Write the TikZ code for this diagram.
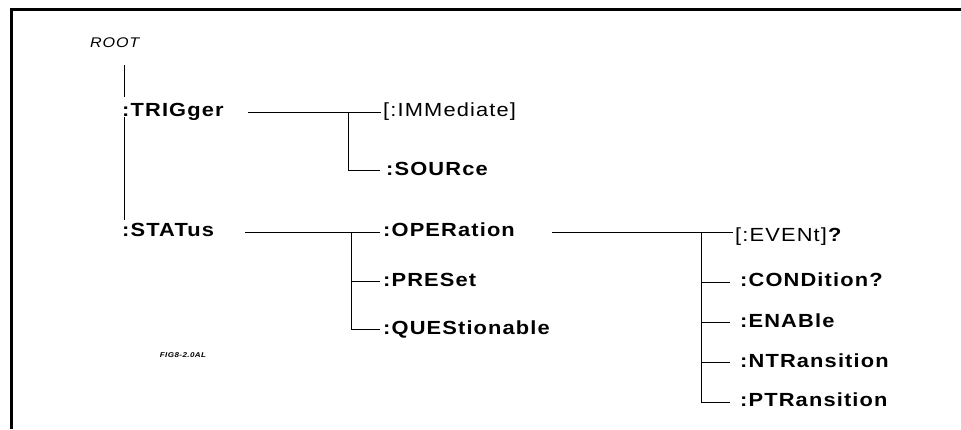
\documentclass[tikz,border=0pt]{standalone}
\usepackage{fontspec}
\setmainfont{Liberation Sans}[LetterSpace=6,FakeStretch=1.15]
\usetikzlibrary{calc}
\usetikzlibrary{positioning}

\begin{document}
\begin{tikzpicture}[x=1pt,y=-1pt,
  cmd/.style={anchor=west,inner sep=0pt,text height=13.6pt,text depth=0pt,font=\fontsize{19}{22}\selectfont\bfseries},
  opt/.style={cmd,font=\fontsize{19}{22}\selectfont},
  wire/.style={draw,line width=0.8pt}]

  \useasboundingbox (0,0) rectangle (961,429);
  \draw [line width=3pt] (961,9) -- (11,9) -- (11,429);

  \node [anchor=west,inner sep=0pt,text height=10pt,text depth=0pt,font=\fontsize{14}{16}\selectfont\itshape] (root) at (90,42) {ROOT};

  \node [cmd] (trig) at (122,110) {:TRIGger};
  \node [cmd] (stat) at (122,230) {:STATus};

  \node [opt] (imm)  at (383,110) {[:IMMediate]};
  \node [cmd] (sour) at (386,169) {:SOURce};

  \node [cmd] (oper) at (383,230) {:OPERation};
  \node [cmd] (pres) at (383,280) {:PRESet};
  \node [cmd] (ques) at (383,328) {:QUEStionable};

  \node [opt] (event) at (735,235) {[:EVENt]\textbf{?}};
  \node [cmd] (cond)  at (740,280) {:CONDition?};
  \node [cmd] (enab)  at (740,321) {:ENABle};
  \node [cmd] (ntr)   at (740,361) {:NTRansition};
  \node [cmd] (ptr)   at (740,400) {:PTRansition};

  \node [inner sep=0pt,font=\fontsize{7}{8}\selectfont\bfseries\itshape] (figid) at (183,355) {FIG8-2.0AL};

  \path [wire]
    ($(trig.west |- root.south)+(2,18)$) -- ($(trig.north west)+(2,-6)$)
    ($(trig.south west)+(2,0)$) -- ($(stat.north west)+(2,-3)$);

  \path [wire]
    ($(trig.west)+(126,2)$) -- ($(imm.west)+(-2,2)$)
    ($(imm.west)+(-35,2)$) |- ($(sour.west)+(-6,1)$);

  \path [wire]
    ($(stat.west)+(123,2)$) -- ($(oper.west)+(-3,2)$)
    ($(oper.west)+(-32,2)$) |- ($(ques.west)+(-3,1)$)
    ($(pres.west)+(-32,1)$) -- ($(pres.west)+(-3,1)$);

  \path [wire]
    ($(oper.west)+(169,2)$) -- ($(oper.west -| event.west)+(-2,2)$)
    ($(oper.west -| event.west)+(-34,2)$) |- ($(ptr.west)+(-10,2)$)
    ($(cond.west)+(-39,2)$) -- ($(cond.west)+(-10,2)$)
    ($(enab.west)+(-39,1)$) -- ($(enab.west)+(-10,1)$)
    ($(ntr.west)+(-39,1)$) -- ($(ntr.west)+(-10,1)$);
\end{tikzpicture}
\end{document}
